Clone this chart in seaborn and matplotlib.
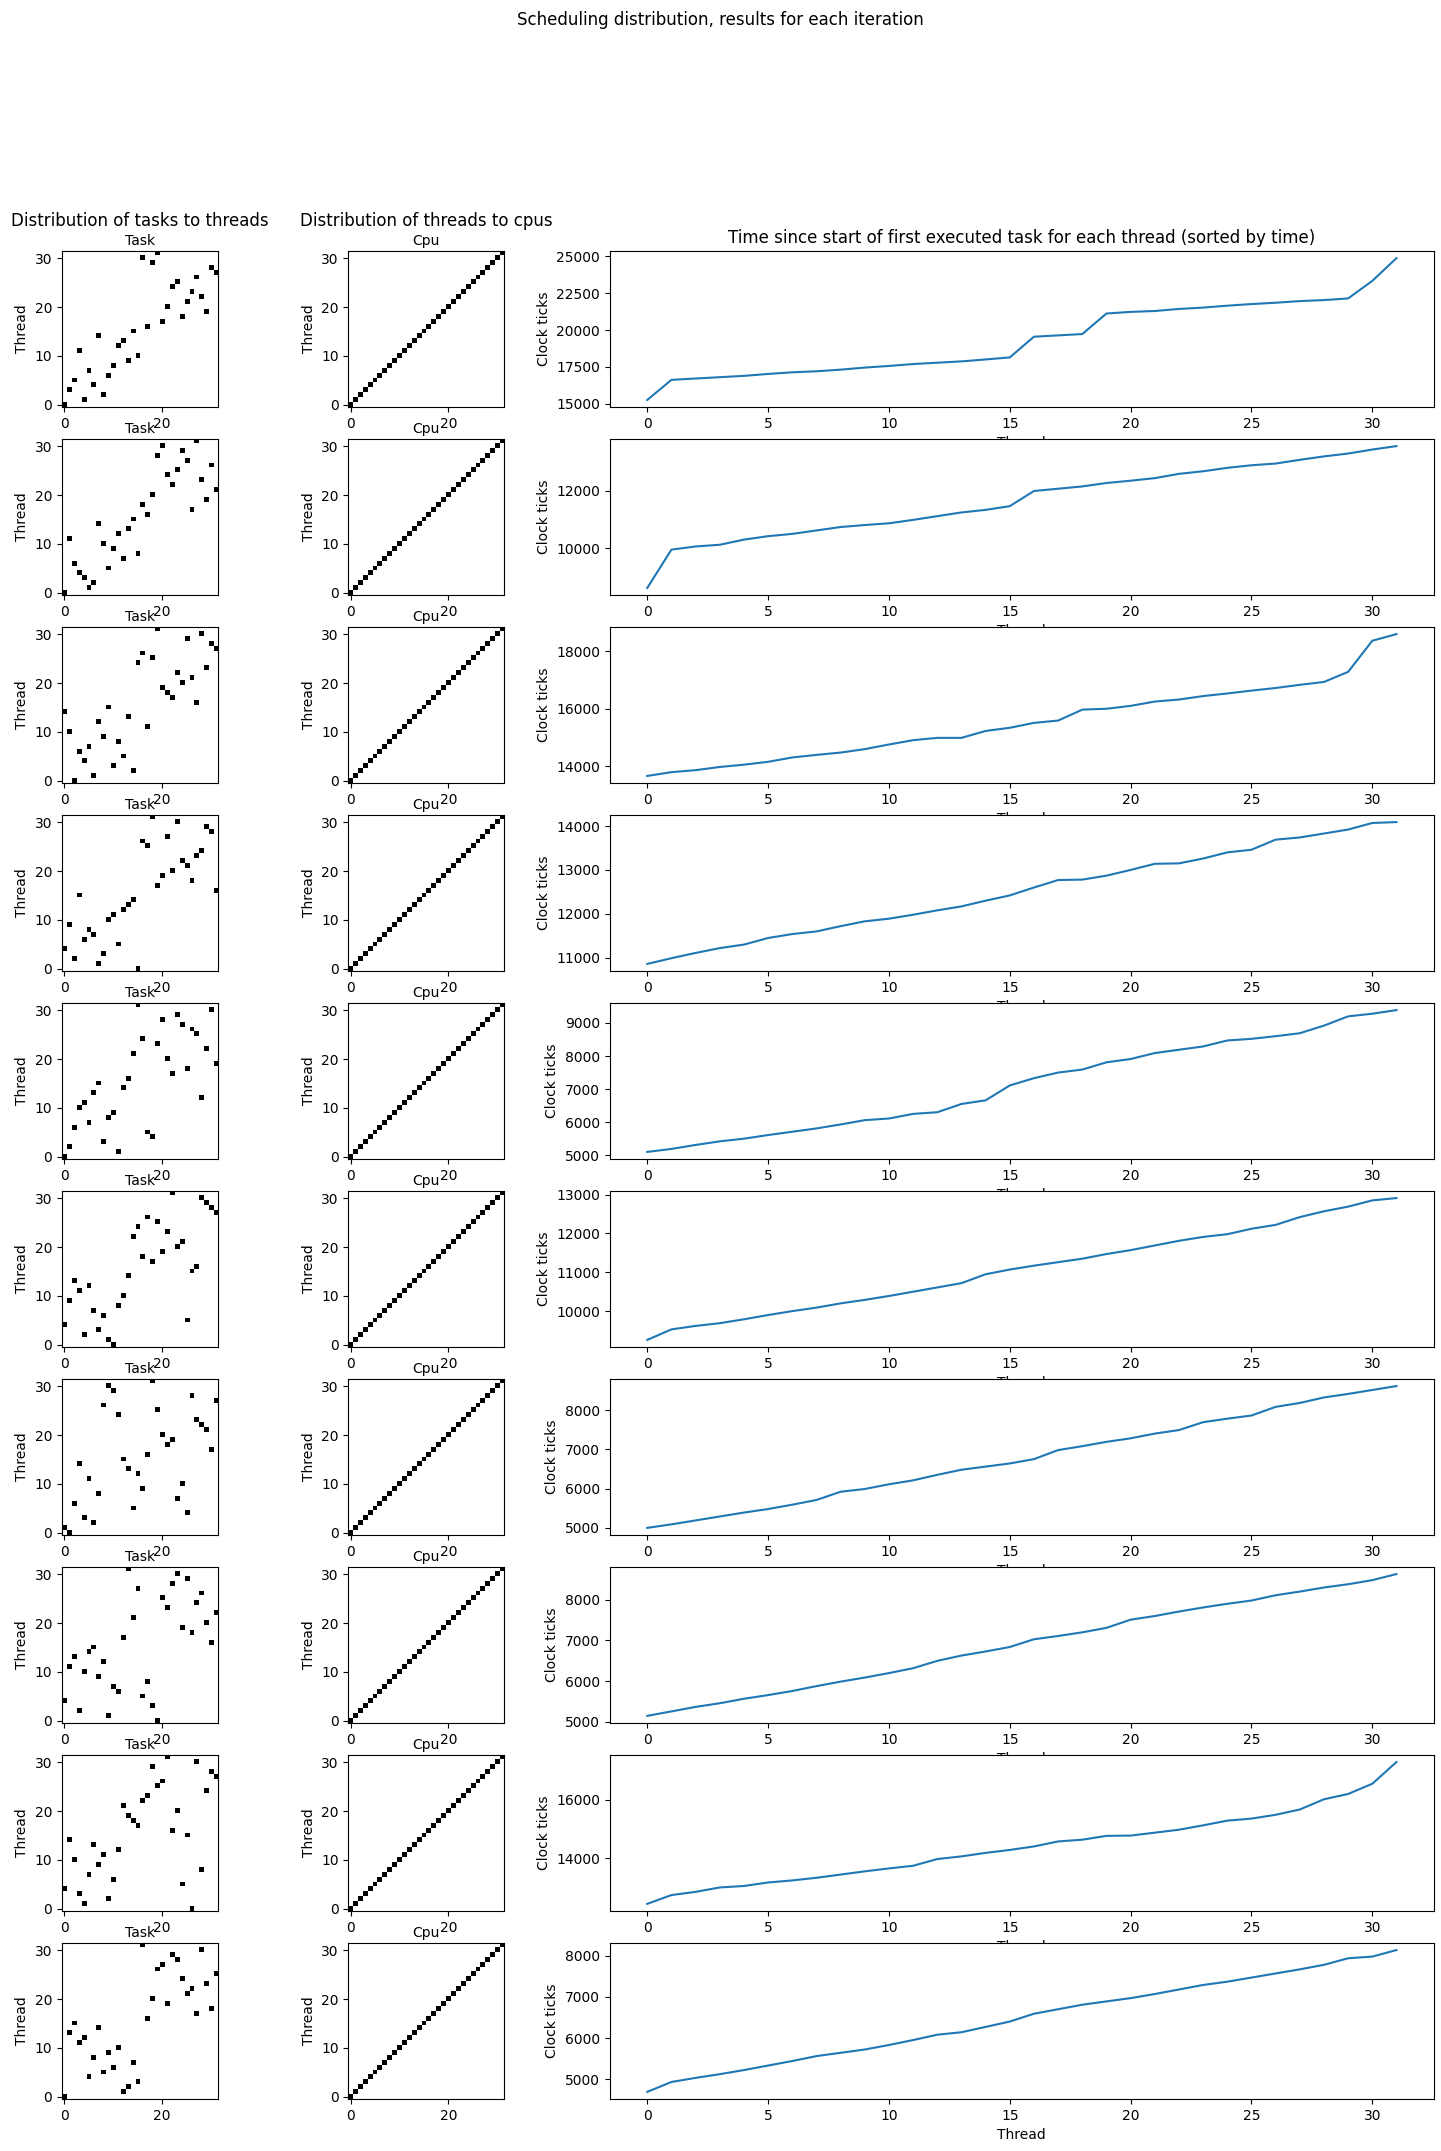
import numpy as np
import matplotlib
matplotlib.use("Agg")
import matplotlib.pyplot as plt
import seaborn as sns

# thread that got each task (index = task), one list per iteration
task_to_thread = [
    [0, 3, 5, 11, 1, 7, 4, 14, 2, 6, 8, 12, 13, 9, 15, 10, 30, 16, 29, 31, 17, 20, 24, 25, 18, 21, 23, 26, 22, 19, 28, 27],
    [0, 11, 6, 4, 3, 1, 2, 14, 10, 5, 9, 12, 7, 13, 15, 8, 18, 16, 20, 28, 30, 24, 22, 25, 29, 27, 17, 31, 23, 19, 26, 21],
    [14, 10, 0, 6, 4, 7, 1, 12, 9, 15, 3, 8, 5, 13, 2, 24, 26, 11, 25, 31, 19, 18, 17, 22, 20, 29, 21, 16, 30, 23, 28, 27],
    [4, 9, 2, 15, 6, 8, 7, 1, 3, 10, 11, 5, 12, 13, 14, 0, 26, 25, 31, 17, 19, 27, 20, 30, 22, 21, 18, 23, 24, 29, 28, 16],
    [0, 2, 6, 10, 11, 7, 13, 15, 3, 8, 9, 1, 14, 16, 21, 31, 24, 5, 4, 23, 28, 20, 17, 29, 27, 18, 26, 25, 12, 22, 30, 19],
    [4, 9, 13, 11, 2, 12, 7, 3, 6, 1, 0, 8, 10, 14, 22, 24, 18, 26, 17, 25, 19, 23, 31, 20, 21, 5, 15, 16, 30, 29, 28, 27],
    [1, 0, 6, 14, 3, 11, 2, 8, 26, 30, 29, 24, 15, 13, 5, 12, 9, 16, 31, 25, 20, 18, 19, 7, 10, 4, 28, 23, 22, 21, 17, 27],
    [4, 11, 13, 2, 10, 14, 15, 9, 12, 1, 7, 6, 17, 31, 21, 27, 5, 8, 3, 0, 25, 23, 28, 30, 19, 29, 18, 24, 26, 20, 16, 22],
    [4, 14, 10, 3, 1, 7, 13, 9, 11, 2, 6, 12, 21, 19, 18, 17, 22, 23, 29, 25, 26, 31, 16, 20, 5, 15, 0, 30, 8, 24, 28, 27],
    [0, 13, 15, 11, 12, 4, 8, 14, 5, 9, 6, 10, 1, 2, 7, 3, 31, 16, 20, 26, 27, 19, 29, 28, 24, 21, 22, 17, 30, 23, 18, 25],
]

# cpu of each thread (same in every iteration)
thread_to_cpu = [0, 1, 2, 3, 4, 5, 6, 7, 8, 9, 10, 11, 12, 13, 14, 15,
                 16, 17, 18, 19, 20, 21, 22, 23, 24, 25, 26, 27, 28, 29, 30, 31]

# clock ticks since first task start, sorted, one list per iteration
clock_ticks = [
    [15270, 16630, 16720, 16810, 16900, 17030, 17140, 17210, 17320, 17460, 17570, 17700, 17790, 17880, 18010, 18150,
     19550, 19640, 19730, 21120, 21230, 21290, 21430, 21520, 21650, 21760, 21850, 21960, 22030, 22140, 23330, 24870],
    [8610, 9950, 10060, 10120, 10300, 10420, 10500, 10620, 10740, 10810, 10870, 10990, 11120, 11250, 11340, 11470,
     12000, 12080, 12160, 12280, 12360, 12450, 12600, 12690, 12810, 12900, 12960, 13090, 13210, 13310, 13450, 13570],
    [13670, 13800, 13870, 13980, 14060, 14160, 14310, 14400, 14480, 14600, 14760, 14910, 14990, 14990, 15230, 15340,
     15510, 15590, 15970, 16000, 16100, 16250, 16320, 16440, 16530, 16630, 16720, 16830, 16930, 17280, 18360, 18590],
    [10860, 10990, 11110, 11220, 11300, 11450, 11540, 11600, 11720, 11830, 11890, 11980, 12080, 12170, 12300, 12420,
     12600, 12770, 12780, 12870, 13000, 13140, 13150, 13260, 13400, 13460, 13690, 13740, 13830, 13920, 14070, 14090],
    [5100, 5190, 5310, 5420, 5500, 5610, 5710, 5810, 5930, 6060, 6110, 6250, 6300, 6550, 6660, 7110,
     7330, 7500, 7590, 7810, 7910, 8090, 8190, 8290, 8470, 8520, 8600, 8690, 8920, 9200, 9280, 9390],
    [9260, 9530, 9620, 9690, 9790, 9900, 10000, 10090, 10200, 10290, 10390, 10500, 10610, 10720, 10950, 11070,
     11170, 11260, 11350, 11470, 11570, 11690, 11810, 11910, 11980, 12120, 12220, 12420, 12570, 12690, 12850, 12910],
    [5000, 5090, 5190, 5290, 5390, 5480, 5590, 5710, 5920, 5990, 6110, 6210, 6350, 6480, 6560, 6640,
     6750, 6980, 7080, 7190, 7280, 7400, 7490, 7690, 7780, 7860, 8080, 8180, 8320, 8410, 8510, 8610],
    [5150, 5260, 5370, 5460, 5570, 5660, 5760, 5880, 5990, 6090, 6200, 6320, 6500, 6630, 6730, 6840,
     7030, 7110, 7200, 7310, 7510, 7600, 7710, 7810, 7900, 7980, 8110, 8200, 8300, 8380, 8480, 8630],
    [12450, 12750, 12860, 13010, 13060, 13180, 13250, 13340, 13450, 13560, 13660, 13750, 13980, 14070, 14190, 14290,
     14410, 14580, 14640, 14770, 14780, 14880, 14980, 15130, 15290, 15360, 15490, 15670, 16020, 16200, 16550, 17290],
    [4690, 4930, 5030, 5120, 5220, 5330, 5440, 5560, 5640, 5720, 5830, 5950, 6080, 6140, 6270, 6400,
     6590, 6700, 6810, 6890, 6970, 7070, 7180, 7290, 7370, 7470, 7570, 7670, 7780, 7940, 7980, 8140],
]

n_iter = len(clock_ticks)
n = len(thread_to_cpu)

fig, axes = plt.subplots(n_iter, 3, figsize=(14.41, 21.51), dpi=100,
                         gridspec_kw=dict(width_ratios=[1, 1, 4]))
fig.subplots_adjust(left=0.0257, right=0.9951, top=0.8833, bottom=0.0242,
                    wspace=0.195, hspace=0.205)
fig.suptitle("Scheduling distribution, results for each iteration", y=0.995)

cpu_mat = np.zeros((n, n))
cpu_mat[np.arange(n), thread_to_cpu] = 1

for i in range(n_iter):
    ax1, ax2, ax3 = axes[i]

    # tasks -> threads
    mat = np.zeros((n, n))
    mat[task_to_thread[i], np.arange(n)] = 1
    ax1.imshow(mat, cmap="binary", origin="lower", interpolation="nearest")
    ax1.set_xlabel("Task")
    ax1.xaxis.set_label_position("top")
    ax1.set_ylabel("Thread")

    # threads -> cpus
    ax2.imshow(cpu_mat, cmap="binary", origin="lower", interpolation="nearest")
    ax2.set_xlabel("Cpu")
    ax2.xaxis.set_label_position("top")
    ax2.set_ylabel("Thread")

    # start times
    sns.lineplot(x=np.arange(n), y=clock_ticks[i], ax=ax3)
    ax3.set_xlabel("Thread")
    ax3.set_ylabel("Clock ticks")

    if i == 0:
        ax1.set_title("Distribution of tasks to threads")
        ax2.set_title("Distribution of threads to cpus")
        ax3.set_title("Time since start of first executed task for each thread (sorted by time)")

fig.savefig("out.png", dpi=100)
